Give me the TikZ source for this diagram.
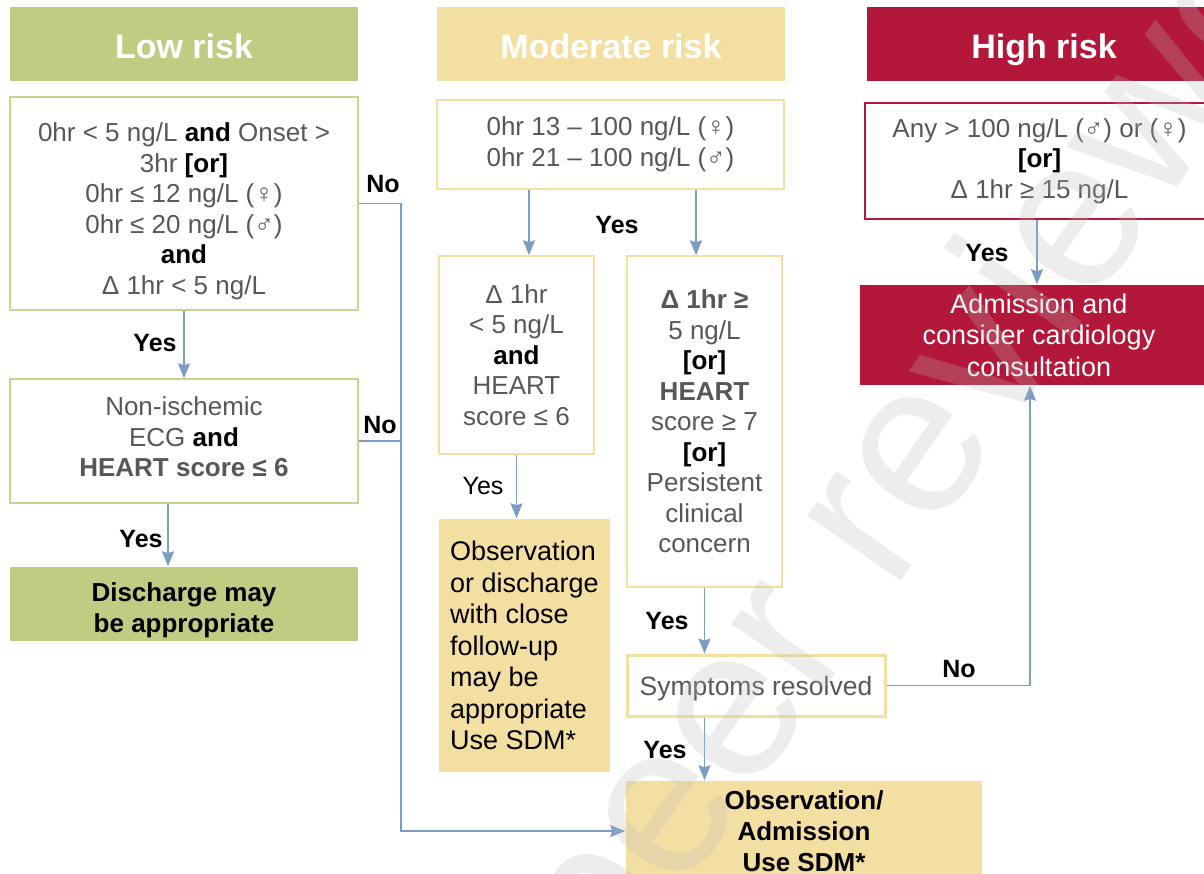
\documentclass[tikz,border=0pt]{standalone}
\usepackage{fontspec}
\setmainfont{Liberation Sans}
\usetikzlibrary{arrows.meta,calc}
\definecolor{lowc}{HTML}{C2CB82}
\definecolor{lowb}{HTML}{C9D28F}
\definecolor{modc}{HTML}{F4DFA3}
\definecolor{highc}{HTML}{B3173A}
\definecolor{arrc}{HTML}{7B9CC5}
\definecolor{txt}{HTML}{575757}
\definecolor{wm}{HTML}{B9B9B9}
\newcommand{\blk}[1]{{\bfseries\color{black}#1}}
\newcommand{\dgb}[1]{{\bfseries #1}}
\newcommand{\toppad}[1]{\rule{0pt}{#1}}
\newcommand{\botpad}[1]{\rule[-#1]{0pt}{#1}}
\begin{document}
\begin{tikzpicture}[x=1pt,y=-1pt,
  box/.style={rectangle, inner sep=0pt, line width=1.5pt, align=center, text=txt,
    font=\fontsize{26}{30.5}\selectfont},
  lowbox/.style={box, draw=lowb},
  modbox/.style={box, draw=modc},
  highbox/.style={box, draw=highc},
  head/.style={rectangle, inner sep=0pt, text=white, font=\fontsize{34}{36}\selectfont\bfseries,
    minimum height=74pt, text height=30pt, text depth=0.4pt},
  lbl/.style={inner sep=0pt, font=\fontsize{25}{28}\selectfont\bfseries, text=black},
  lblr/.style={inner sep=0pt, font=\fontsize{25}{28}\selectfont, text=black},
  conn/.style={draw=arrc, line width=1.5pt},
  arr/.style={conn, -{Stealth[length=15pt,width=12pt,inset=2pt]}}
]
\useasboundingbox (0,0) rectangle (1204,873);
\clip (0,0) rectangle (1204,873);

% headers
\node[head, fill=lowc, minimum width=348pt] (hlow) at (184,44) {Low risk};
\node[head, fill=modc, minimum width=348pt] (hmod) at (611,44) {Moderate risk};
\node[head, fill=highc, minimum width=354pt] (hhigh) at (1044,44) {High risk};

% low risk column
\node[lowbox, minimum width=348pt, minimum height=213pt] (b1) at (184,203.5)
  {\toppad{34pt}0hr < 5 ng/L \blk{and} Onset >\\ 3hr \blk{[or]}\\ 0hr ≤ 12 ng/L (♀)\\ 0hr ≤ 20 ng/L (♂)\\ \blk{and}\\ Δ 1hr < 5 ng/L};
\node[lowbox, minimum width=348pt, minimum height=124pt] (b2) at (184,441)
  {Non-ischemic\\ ECG \blk{and}\\ \dgb{HEART score ≤ 6}\botpad{8pt}};
\node[box, fill=lowc, text=black, font=\fontsize{26}{31}\selectfont\bfseries,
  minimum width=348pt, minimum height=74pt] (b3) at (184,604)
  {\toppad{31pt}Discharge may\\ be appropriate};

% moderate risk column
\node[modbox, minimum width=347pt, minimum height=89pt] (m1) at (610.5,144.5)
  {0hr 13 – 100 ng/L (♀)\\ 0hr 21 – 100 ng/L (♂)};
\node[modbox, minimum width=155pt, minimum height=198pt] (m2) at (516.5,355)
  {Δ 1hr\\ < 5 ng/L\\ \blk{and}\\ HEART\\ score ≤ 6};
\node[modbox, minimum width=155pt, minimum height=331pt] (m3) at (704.5,421.5)
  {\dgb{Δ 1hr ≥}\\ 5 ng/L\\ \blk{[or]}\\ \dgb{HEART}\\ score ≥ 7\\ \blk{[or]}\\ Persistent\\ clinical\\ concern};
\node[box, fill=modc, text=black, align=left, font=\fontsize{27}{31.5}\selectfont,
  minimum width=171pt, minimum height=253pt] (m4) at (524.5,645.5)
  {Observation\\ or discharge\\ with close\\ follow-up\\ may be\\ appropriate\\ Use SDM*};
\node[box, draw=modc, line width=3pt, font=\fontsize{26.5}{30}\selectfont,
  minimum width=258pt, minimum height=61pt] (sym) at (756,685.5)
  {\toppad{26pt}Symptoms resolved};
\node[box, fill=modc, text=black, font=\fontsize{26}{31}\selectfont\bfseries,
  minimum width=356pt, minimum height=100pt] (obs) at (804,831)
  {Observation/\\ Admission\\ Use SDM*};

% high risk column
\node[highbox, minimum width=349pt, minimum height=116pt] (h1) at (1039.5,161)
  {Any > 100 ng/L (♂) or (♀)\\ \blk{[or]}\\ Δ 1hr ≥ 15 ng/L};
\node[box, fill=highc, text=white, font=\fontsize{27}{31.5}\selectfont,
  minimum width=358pt, minimum height=100pt] (h2) at (1039,335)
  {Admission and\\ consider cardiology\\ consultation};

% connectors
\coordinate (nx) at (401,0);
\draw[arr] (b1.south) -- (b2.north);
\draw[arr] ([xshift=-16pt]b2.south) -- ([xshift=-16pt]b3.north);
\draw[arr] (b1.east) -| (nx |- obs.west) -- (obs.west);
\draw[conn] (b2.east) -- (b2.east -| nx);
\draw[arr] ([xshift=12.5pt]m2.north |- m1.south) -- ([xshift=12.5pt]m2.north);
\draw[arr] ([xshift=-8.5pt]m3.north |- m1.south) -- ([xshift=-8.5pt]m3.north);
\draw[arr] (m2.south) -- (m2.south |- m4.north);
\draw[arr] (m3.south) -- (m3.south |- sym.north);
\draw[arr] (sym.south -| m3.south) -- (obs.north -| m3.south);
\draw[arr] (sym.east) -| ([xshift=-9pt]h2.south);
\draw[arr] ([xshift=-2.5pt]h1.south) -- ([xshift=-2.5pt]h1.south |- h2.north);

% labels
\node[lbl] (l1) at (383,184) {No};
\node[lbl] (l2) at (155,343) {Yes};
\node[lbl] (l3) at (380,425) {No};
\node[lbl] (l4) at (141,539) {Yes};
\node[lbl] (l5) at (617,225) {Yes};
\node[lblr] (l6) at (483,486) {Yes};
\node[lbl] (l7) at (667,621) {Yes};
\node[lbl] (l8) at (959,669) {No};
\node[lbl] (l9) at (665,750) {Yes};
\node[lbl] (l10) at (987,253) {Yes};

% watermark
\node[rotate=55, anchor=base west, inner sep=0pt, font=\fontsize{215}{215}\selectfont,
  text=wm, opacity=0.25] (wmk) at (611,995) {peer reviewed};
\end{tikzpicture}
\end{document}
